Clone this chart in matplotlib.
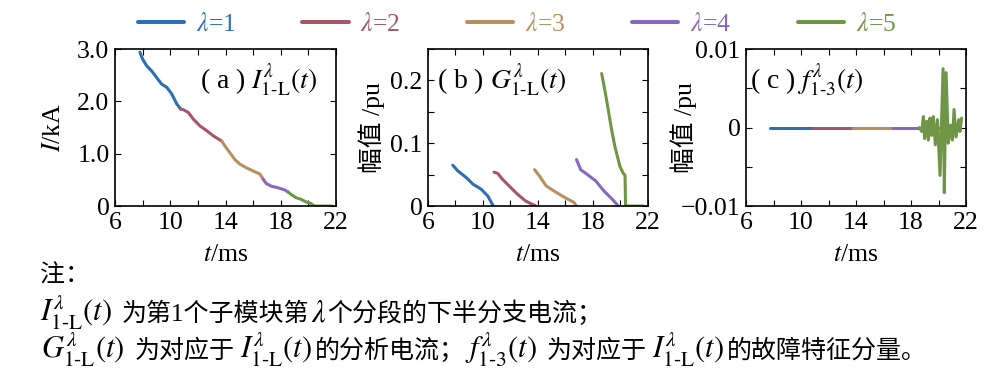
import numpy as np
import matplotlib
matplotlib.use('Agg')
import matplotlib.pyplot as plt
from matplotlib.lines import Line2D
from matplotlib.ticker import MultipleLocator

plt.rcParams['font.family'] = ['Liberation Serif', 'Noto Sans CJK SC']
plt.rcParams['mathtext.fontset'] = 'stix'

# colours for lambda = 1..5
colors = ['#2c6fb4', '#a5566d', '#b89060', '#8868bf', '#6e9646']
labels = [r'$\lambda$=1', r'$\lambda$=2', r'$\lambda$=3', r'$\lambda$=4', r'$\lambda$=5']

# (a) I_1-L(t), kA
a_t = [[7.8, 7.99, 8.29, 8.65, 9.0, 9.37, 9.74, 10.11, 10.47, 10.76],
       [10.76, 10.95, 11.3, 11.67, 12.15, 12.64, 13.12, 13.49, 13.73],
       [13.73, 13.95, 14.31, 14.67, 15.04, 15.52, 16.0, 16.49, 16.73],
       [16.73, 16.95, 17.31, 17.79, 18.27, 18.52],
       [18.52, 18.75, 19.1, 19.46, 19.82, 20.18, 20.36, 20.5, 21.7]]
a_v = [[2.94, 2.81, 2.68, 2.58, 2.46, 2.33, 2.27, 2.14, 1.95, 1.85],
       [1.85, 1.84, 1.79, 1.66, 1.53, 1.44, 1.34, 1.28, 1.24],
       [1.24, 1.15, 1.02, 0.89, 0.80, 0.73, 0.67, 0.61, 0.51],
       [0.51, 0.43, 0.38, 0.35, 0.31, 0.27],
       [0.27, 0.22, 0.16, 0.13, 0.08, 0.05, 0.01, 0.0, 0.0]]

# (b) G_1-L(t), pu
b_t = [[7.8, 8.17, 8.8, 9.26, 9.86, 10.35, 10.75],
       [10.8, 11.07, 11.4, 11.9, 12.5, 13.1, 13.85],
       [13.75, 14.1, 14.6, 15.3, 16.0, 16.6, 16.8],
       [16.8, 17.1, 17.6, 18.2, 18.8, 19.4, 19.84],
       [18.63, 18.9, 19.11, 19.35, 19.6, 19.96, 20.2, 20.33, 20.37, 21.66]]
b_v = [[0.065, 0.056, 0.045, 0.035, 0.027, 0.016, 0.0],
       [0.054, 0.052, 0.043, 0.032, 0.019, 0.008, 0.0],
       [0.058, 0.048, 0.032, 0.022, 0.013, 0.006, 0.0],
       [0.074, 0.058, 0.05, 0.04, 0.024, 0.011, 0.0],
       [0.211, 0.18, 0.153, 0.122, 0.094, 0.063, 0.052, 0.049, 0.0, 0.0]]

# (c) f_1-3(t), pu
c_t = [[7.75, 10.77],
       [10.77, 13.75],
       [13.75, 16.72],
       [16.72, 20.0],
       [18.61, 18.78, 18.90, 18.99, 19.14, 19.26, 19.38, 19.50, 19.62, 19.77, 19.92,
        20.11, 20.33, 20.42, 20.55, 20.71, 20.88, 21.01, 21.13, 21.27, 21.47, 21.56, 21.68]]
c_v = [[0.0, 0.0],
       [0.0, 0.0],
       [0.0, 0.0],
       [0.0, 0.0],
       [0.0, -0.0005, 0.0014, -0.0014, 0.0008, -0.0016, 0.0012, -0.0010, 0.0014, -0.0022, 0.0010,
        -0.0061, 0.0075, -0.0083, 0.0070, -0.0020, 0.0003, -0.0016, 0.0023, -0.0012, 0.0010, -0.0005, 0.0012]]

fig = plt.figure(figsize=(9.96, 3.83), dpi=100)
ax_a = fig.add_axes([0.1155, 0.462, 0.2219, 0.41])
ax_b = fig.add_axes([0.4297, 0.462, 0.2209, 0.41])
ax_c = fig.add_axes([0.749, 0.462, 0.2209, 0.41])

fs = 18.5
lw = 2.2
for ax, ts, vs in [(ax_a, a_t, a_v), (ax_b, b_t, b_v), (ax_c, c_t, c_v)]:
    for i in range(5):
        ax.plot(ts[i], vs[i], color=colors[i], lw=lw, solid_capstyle='round')
    ax.set_xlim(6, 22)
    ax.set_xticks([6, 10, 14, 18, 22])
    ax.xaxis.set_minor_locator(MultipleLocator(2))
    ax.tick_params(which='both', direction='in', top=True, right=True, labelsize=fs, pad=4)
    ax.tick_params(which='major', length=4, width=0.8)
    ax.tick_params(which='minor', length=4, width=0.8)
    ax.set_xlabel('$t$/ms', fontsize=fs)
    ax.xaxis.set_label_coords(0.5, -0.24)
    for s in ax.spines.values():
        s.set_linewidth(1.2)

ax_a.set_ylim(0, 3.0)
ax_a.set_yticks([0, 1, 2, 3])
ax_a.set_yticklabels(['0', '1.0', '2.0', '3.0'])
ax_a.set_ylabel('$I$/kA', fontsize=fs)
ax_a.yaxis.set_label_coords(-0.226, 0.5)

ax_b.set_ylim(0, 0.25)
ax_b.set_yticks([0, 0.1, 0.2])
ax_b.set_yticklabels(['0', '0.1', '0.2'])
ax_b.yaxis.set_minor_locator(MultipleLocator(0.05))
ax_b.set_ylabel('幅值 /pu', fontsize=fs)
ax_b.yaxis.set_label_coords(-0.195, 0.5)

ax_c.set_ylim(-0.01, 0.01)
ax_c.set_yticks([-0.01, 0, 0.01])
ax_c.set_yticklabels(['\u22120.01', '0', '0.01'])
ax_c.yaxis.set_minor_locator(MultipleLocator(0.005))
ax_c.set_ylabel('幅值 /pu', fontsize=fs)
ax_c.yaxis.set_label_coords(-0.223, 0.5)

tfs = 20
ax_a.text(0.385, 0.80, r'( a ) $I^{\lambda}_{\text{1-L}}(t)$', transform=ax_a.transAxes,
          fontsize=tfs, ha='left', va='center')
ax_b.text(0.04, 0.80, r'( b ) $G^{\lambda}_{\text{1-L}}(t)$', transform=ax_b.transAxes,
          fontsize=tfs, ha='left', va='center')
ax_c.text(0.018, 0.80, r'( c ) $f^{\lambda}_{\text{1-3}}(t)$', transform=ax_c.transAxes,
          fontsize=tfs, ha='left', va='center')

handles = [Line2D([], [], color=c, lw=2.9, solid_capstyle='round') for c in colors]
fig.legend(handles, labels, loc='center', bbox_to_anchor=(0.519, 0.935), ncol=5,
           frameon=False, handlelength=1.8, columnspacing=2.6, handletextpad=0.45,
           fontsize=fs, labelcolor='linecolor')

# note lines: math pieces and CJK pieces drawn one after another
cjk_fs = 18
math_fs = 22
W = fig.get_figwidth() * fig.dpi
renderer = fig.canvas.get_renderer()


def note_line(x_px, y_px, parts):
    cur = x_px
    for s, gap in parts:
        size = math_fs if s.startswith('$') else cjk_fs
        t = fig.text(cur / W, 1 - y_px / 383, s, fontsize=size, va='baseline', ha='left')
        cur += t.get_window_extent(renderer).width + gap


I_sym = r'$I^{\lambda}_{\text{1-L}}(t)$'
G_sym = r'$G^{\lambda}_{\text{1-L}}(t)$'
f_sym = r'$f^{\lambda}_{\text{1-3}}(t)$'

note_line(40, 283, [('注：', 0)])
note_line(40, 321, [(I_sym, 10), ('为第1个子模块第', 1), (r'$\lambda$', 1),
                    ('个分段的下半分支电流；', 0)])
note_line(41, 358, [(G_sym, 10), ('为对应于', 5), (I_sym, 3), ('的分析电流；', 0),
                    (f_sym, 10), ('为对应于', 5), (I_sym, 3), ('的故障特征分量。', 0)])

fig.savefig('out.png', dpi=100)
